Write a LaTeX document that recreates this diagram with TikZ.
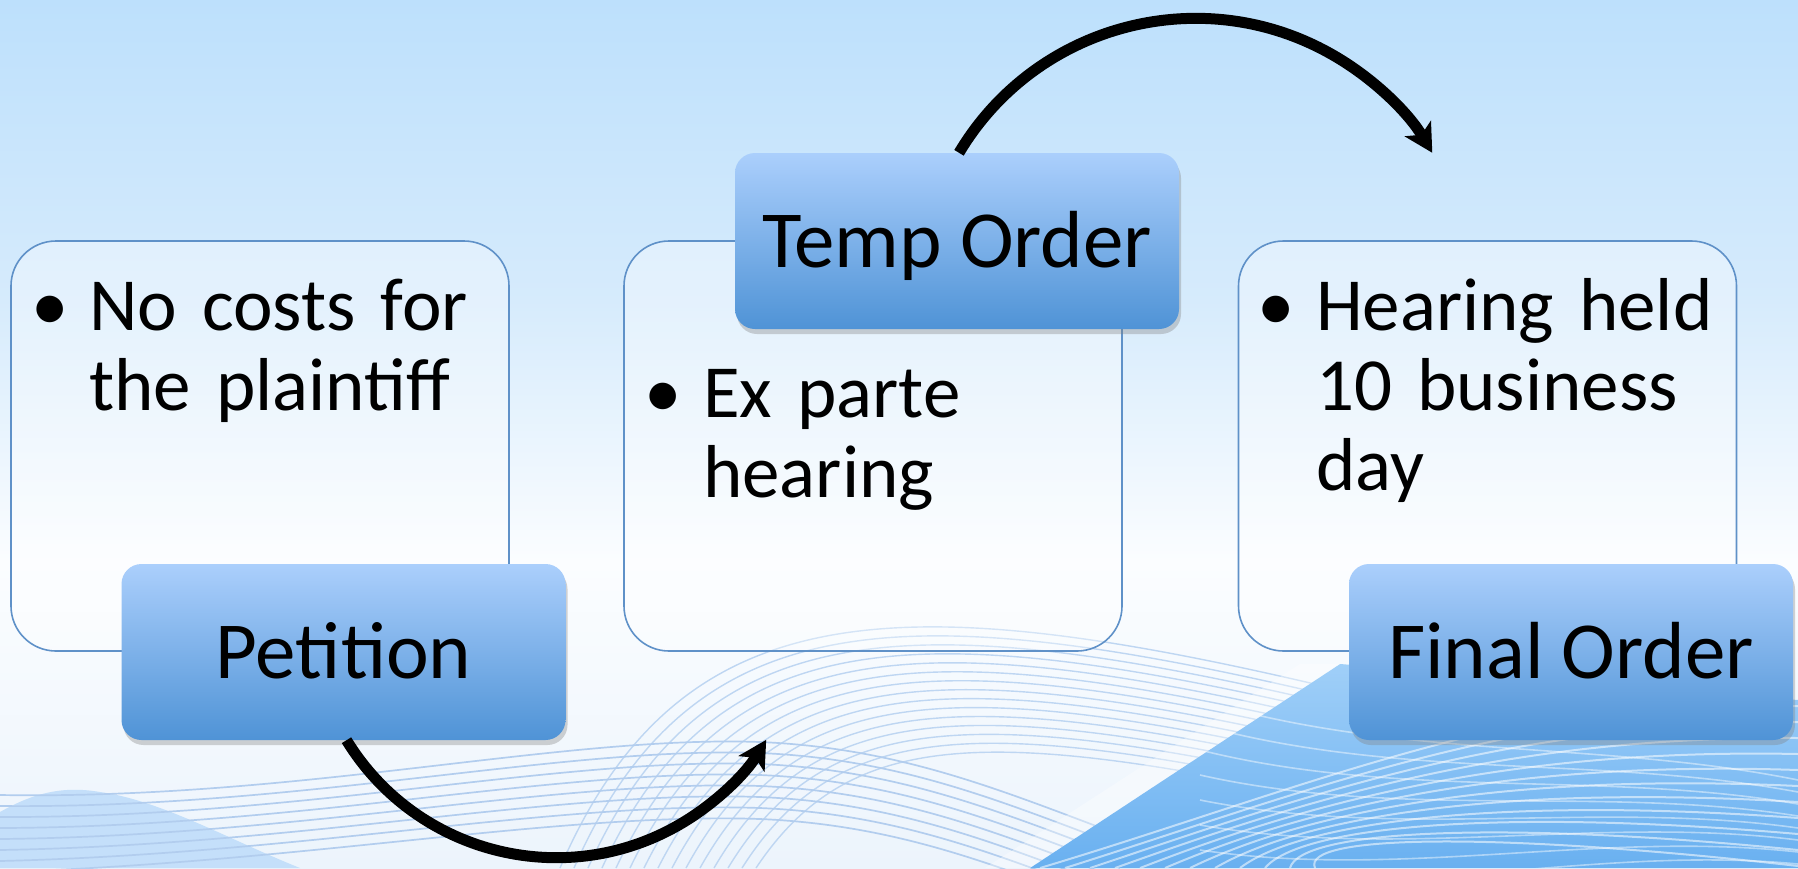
\documentclass[tikz,border=0pt]{standalone}
\usepackage{fontspec}
\setmainfont{Carlito}
\usetikzlibrary{arrows.meta,shadows}
\definecolor{bgtop}{RGB}{189,224,252}
\definecolor{bgmid}{RGB}{214,235,252}
\definecolor{bgwhite}{RGB}{251,253,255}
\definecolor{bgbot}{RGB}{236,244,252}
\definecolor{boxline}{RGB}{95,145,200}
\definecolor{labtop}{RGB}{171,207,252}
\definecolor{labbot}{RGB}{79,147,214}
\definecolor{wavea}{RGB}{190,214,242}
\definecolor{waveb}{RGB}{178,205,238}
\definecolor{bluetop}{RGB}{160,207,248}
\definecolor{bluebot}{RGB}{105,176,240}
\definecolor{hill}{RGB}{196,223,250}
\newcommand\bxfont{\fontsize{75}{80}\selectfont\fontdimen2\font=0.19em\relax}
\newcommand\lbfont{\fontsize{81}{86}\selectfont}
\begin{document}
\begin{tikzpicture}[x=1pt,y=-1pt,
  infobox/.style={draw=boxline, line width=1.6pt, rounded corners=45pt,
    fill=white, fill opacity=0.35, text opacity=1, inner sep=0pt,
    minimum width=498pt, minimum height=410pt},
  labbox/.style={rounded corners=20pt, top color=labtop, bottom color=labbot,
    drop shadow={opacity=0.35, shadow xshift=2pt, shadow yshift=-5pt},
    inner sep=0pt, minimum width=444pt, minimum height=176pt,
    text height=52pt, text depth=0pt, font=\lbfont},
  bultext/.style={anchor=base west, inner sep=0pt, text width=410pt, align=left, font=\bxfont},
  bulmark/.style={anchor=base, inner sep=0pt, font=\bxfont},
  flow/.style={line width=11pt, -{Stealth[length=28pt, width=30pt, inset=7pt]}}]
\useasboundingbox (0,0) rectangle (1798,868);
% background
\shade[top color=bgtop, bottom color=bgmid] (0,0) rectangle (1798,301);
\shade[top color=bgmid, bottom color=bgwhite] (0,300) rectangle (1798,561);
\shade[top color=bgwhite, bottom color=bgbot] (0,560) rectangle (1798,868);
% bottom-left hill
\fill[hill] (0,812) .. controls (30,795) and (60,785) .. (100,792) .. controls (160,800) and (230,840) .. (300,868) -- (0,868) -- cycle;
% dome lines
\foreach \i in {0,...,14} {
  \draw[wavea, line width=1.4pt] (560+14*\i,868) .. controls (680+12*\i,590+10*\i) and (900+6*\i,585+10*\i) .. (1340,690+8*\i);
}
% horizontal waves
\foreach \i in {0,...,7} {
  \draw[waveb, line width=1.7pt] (0,795+11*\i) .. controls (300,800+9*\i) and (560,735+11*\i) .. (760,742+11*\i) .. controls (900,748+11*\i) and (1000,790+11*\i) .. (1120,835+11*\i);
}
% blue region bottom right
\shade[top color=bluetop, bottom color=bluebot] (1030,868) -- (1340,664) -- (1798,700) -- (1798,868) -- cycle;
\fill[white, opacity=0.35] (985,868) -- (1300,664) -- (1340,664) -- (1030,868) -- cycle;
\begin{scope}
  \clip (1030,868) -- (1340,664) -- (1798,700) -- (1798,868) -- cycle;
  \foreach \i in {0,...,11} {
    \draw[white, opacity=0.55, line width=2pt] (1040+25*\i,868) .. controls (1300,790+4*\i) and (1500,700+12*\i) .. (1798,690+16*\i);
  }
  \foreach \i in {0,...,7} {
    \draw[white, opacity=0.45, line width=1.6pt] (1200,700+25*\i) .. controls (1400,760+20*\i) and (1600,740+15*\i) .. (1798,780+12*\i);
  }
\end{scope}
% info boxes
\node[infobox] (b1) at (260,446) {};
\node[infobox] (b2) at (873,446) {};
\node[infobox] (b3) at (1487.5,446) {};
% bullets and texts
\node[bulmark] (m1) at (50,330) {•};
\node[bultext] (t1) at (89,330) {No costs for\\the plaintiff};
\node[bulmark] (m2) at (663,417) {•};
\node[bultext] (t2) at (703,417) {Ex parte\\hearing};
\node[bulmark] (m3) at (1276,330) {•};
\node[bultext] (t3) at (1316,330) {Hearing held\\10 business\\day};
% label boxes
\node[labbox] (pet) at (343.5,652) {Petition};
\node[labbox] (temp) at (957,241) {Temp Order};
\node[labbox] (fin) at (1571,652) {Final Order};
% connectors
\draw[flow] ([xshift=3pt]pet.south) arc[start angle=148.5, end angle=31.4, radius=246] coordinate (petend);
\draw[flow] ([xshift=2pt]temp.north) arc[start angle=210.8, end angle=329.2, radius=275.5] coordinate (tempend);
\end{tikzpicture}
\end{document}
